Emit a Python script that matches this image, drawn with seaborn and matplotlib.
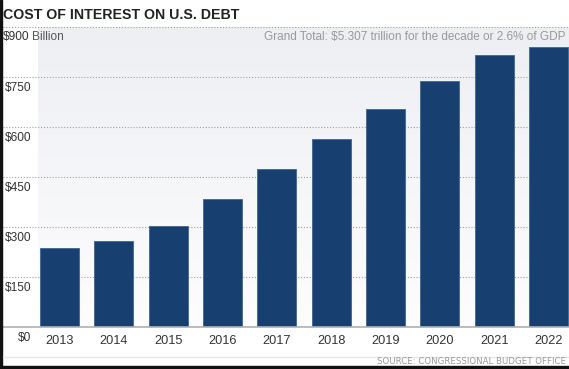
import numpy as np
import pandas as pd
import matplotlib
matplotlib.use("Agg")
import matplotlib.pyplot as plt
import matplotlib.transforms as mtransforms
from matplotlib.colors import LinearSegmentedColormap
from matplotlib.lines import Line2D
import seaborn as sns

years = ["2013", "2014", "2015", "2016", "2017", "2018", "2019", "2020", "2021", "2022"]
interest = [237, 258, 303, 384, 474, 564, 654, 738, 816, 841]
tick_values = [0, 150, 300, 450, 600, 750]
tick_labels = ["$0", "$150", "$300", "$450", "$600", "$750"]

sns.set_theme(style="white")
plt.rcParams["font.family"] = ["Liberation Sans", "DejaVu Sans"]

W, H = 569, 369
fig = plt.figure(figsize=(W / 100, H / 100), dpi=100)
fig.patch.set_facecolor("white")

def px(x, y):
    return x / W, 1 - y / H

ax_left, ax_top, ax_bottom = 38, 27, 327
ax = fig.add_axes([ax_left / W, 1 - ax_bottom / H, 1 - ax_left / W, (ax_bottom - ax_top) / H])

df = pd.DataFrame({"year": years, "interest": interest})
sns.barplot(data=df, x="year", y="interest", color="#174070", saturation=1,
            width=0.72, edgecolor="#4a6d96", linewidth=0.7, ax=ax, zorder=3)

x0c, step = 59.5, 54.33
xl = (ax_left - x0c) / step
xr = (W - x0c) / step

# gradient background
cmap = LinearSegmentedColormap.from_list("bg", ["#fdfdfe", "#eeeff3"])
ax.imshow(np.linspace(0, 1, 256).reshape(-1, 1), extent=[xl, xr, 0, 900],
          origin="lower", aspect="auto", cmap=cmap, zorder=0)
ax.set_xlim(xl, xr)
ax.set_ylim(0, 900)

for s in ax.spines.values():
    s.set_visible(False)

# dotted gridlines extending into the label area
xg = (3 - x0c) / step
for v in [150, 300, 450, 600, 750, 900]:
    ax.hlines(v, xg if v < 900 else (0 - x0c) / step, xr, colors="#a0a0a0",
              linestyles=(0, (1, 1.6)), linewidth=0.8, zorder=1, clip_on=False)
# baseline
ax.hlines(0, (0 - x0c) / step, xr, colors="#b0b0b0", linewidth=1.2, zorder=4, clip_on=False)

ax.set_yticks(tick_values)
ax.set_yticklabels(tick_labels)
ax.tick_params(axis="y", length=0, pad=5, labelsize=8.6, labelcolor="#333333")
ax.tick_params(axis="x", length=0, pad=6, labelsize=9.2, labelcolor="#333333")
off = mtransforms.ScaledTranslation(0, -10 / 100, fig.dpi_scale_trans)
for lab in ax.get_yticklabels():
    lab.set_transform(lab.get_transform() + off)
ax.set_xlabel("")
ax.set_ylabel("")

# texts
fig.text(*px(3, 15), "COST OF INTEREST ON U.S. DEBT", fontsize=10.2, fontweight="bold",
         color="#222222", ha="left", va="center")
fig.text(*px(3, 37), "$900", fontsize=8.6, color="#333333", ha="left", va="center")
fig.text(*px(32, 37), "Billion", fontsize=8.6, color="#555555", ha="left", va="center")
fig.text(*px(566, 37), "Grand Total: $5.307 trillion for the decade or 2.6% of GDP",
         fontsize=8.5, color="#999999", ha="right", va="center")
fig.text(*px(566, 362), "SOURCE: CONGRESSIONAL BUDGET OFFICE", fontsize=6.2,
         color="#999999", ha="right", va="center", family=["DejaVu Sans"])

# separator line and frame
fig.add_artist(Line2D([3 / W, 1], [1 - 357 / H] * 2, color="#e6e6e6", linewidth=1))
fig.add_artist(plt.Rectangle((0, 0), 2 / W, 1, transform=fig.transFigure, color="#111111"))
fig.add_artist(plt.Rectangle((0, 0), 1, 3 / H, transform=fig.transFigure, color="#111111"))

fig.savefig("out.png", dpi=100)
